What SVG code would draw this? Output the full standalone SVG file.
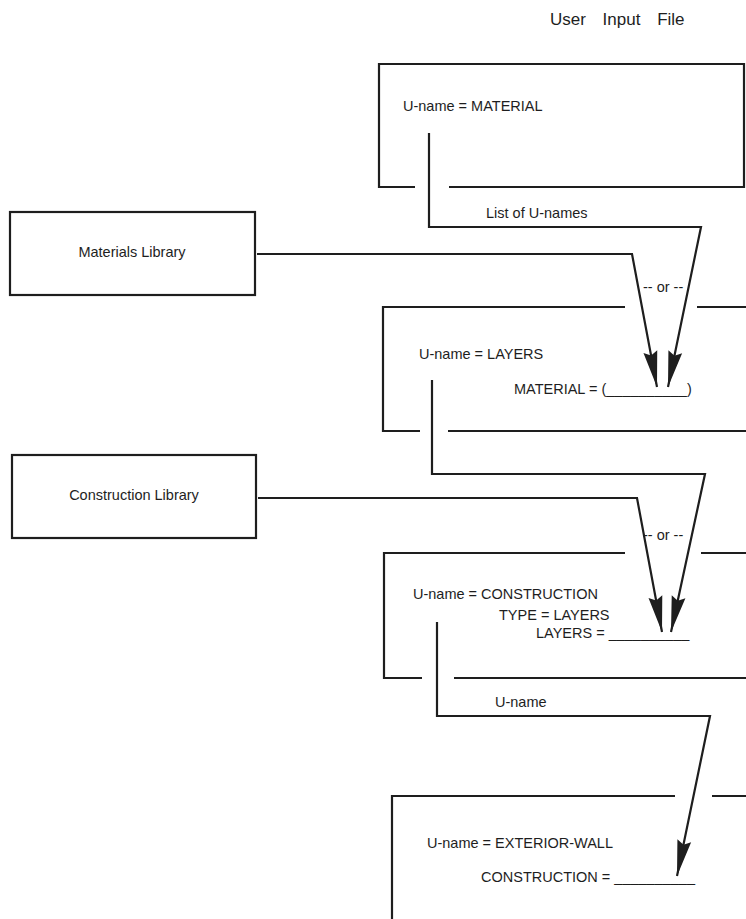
<svg xmlns="http://www.w3.org/2000/svg" width="746" height="919" viewBox="0 0 746 919">
<style>
  .ln { fill: none; stroke: #1e1e1e; stroke-width: 2.2; stroke-linejoin: miter; }
  .t { font-family: "Liberation Sans", Arial, sans-serif; font-size: 14.5px; fill: #1e1e1e; }
  .c { text-anchor: middle; }
</style>
<defs>
  <marker id="arr" markerUnits="userSpaceOnUse" viewBox="-37 -8 38 16" refX="0" refY="0" markerWidth="38" markerHeight="16" orient="auto">
    <path d="M0,0 L-36,-7 L-32,0 L-36,7 Z" fill="#1e1e1e"/>
  </marker>
</defs>
<rect width="746" height="919" fill="#ffffff"/>

<g id="title">
  <text class="t" x="550" y="25" style="font-size:17px" word-spacing="12">User Input File</text>
</g>

<g id="node-material">
  <path class="ln" d="M415,187 H379 V64 H744 V187 H449"/>
  <text class="t" x="403" y="111">U-name = MATERIAL</text>
</g>

<g id="node-materials-library">
  <rect class="ln" x="10" y="212" width="245" height="83"/>
  <text class="t c" x="132" y="257">Materials Library</text>
</g>

<g id="node-layers">
  <path class="ln" d="M625,307 H383 V431 H420"/>
  <path class="ln" d="M448,431 H746"/>
  <path class="ln" d="M697,307 H746"/>
  <text class="t" x="419" y="359">U-name = LAYERS</text>
  <text class="t" x="514" y="394">MATERIAL = (__________)</text>
</g>

<g id="node-construction-library">
  <rect class="ln" x="12" y="455" width="244" height="83"/>
  <text class="t c" x="134" y="500">Construction Library</text>
</g>

<g id="node-construction">
  <path class="ln" d="M625,553 H384 V678 H422"/>
  <path class="ln" d="M454,678 H746"/>
  <path class="ln" d="M701,553 H746"/>
  <text class="t" x="413" y="599">U-name = CONSTRUCTION</text>
  <text class="t" x="499" y="620">TYPE = LAYERS</text>
  <text class="t" x="536" y="638">LAYERS = __________</text>
</g>

<g id="node-exterior-wall">
  <path class="ln" d="M675,796 H392 V919"/>
  <path class="ln" d="M712,796 H746"/>
  <text class="t" x="427" y="848">U-name = EXTERIOR-WALL</text>
  <text class="t" x="481" y="882">CONSTRUCTION = __________</text>
</g>

<g id="connectors">
  <path class="ln" d="M257,254 H632 L657,387" marker-end="url(#arr)"/>
  <path class="ln" d="M429,133 V227 H701 L668,387" marker-end="url(#arr)"/>
  <path class="ln" d="M258,498 H637 L662,632" marker-end="url(#arr)"/>
  <path class="ln" d="M432,380 V474 H705 L671,632" marker-end="url(#arr)"/>
  <path class="ln" d="M437,622 V716 H710 L677,876" marker-end="url(#arr)"/>
  <text class="t" x="486" y="218">List of U-names</text>
  <text class="t" x="643" y="292">-- or --</text>
  <text class="t" x="643" y="540">-- or --</text>
  <text class="t" x="495" y="707">U-name</text>
</g>
</svg>
